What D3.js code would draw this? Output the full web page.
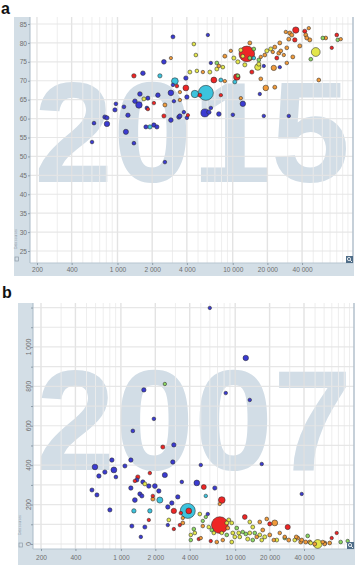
<!DOCTYPE html>
<html><head><meta charset="utf-8">
<script src="https://cdn.jsdelivr.net/npm/d3@7"></script>
<style>html,body{margin:0;padding:0;background:#fff;} svg{display:block}</style>
</head><body><svg id="c" width="358" height="572"></svg>
<script>
// ---------- DATA ----------
// Panel a: year 2015, x = income per person, y = life expectancy (years), third = population (millions)
const yearA = "2015";
const a_africa = [[3030,81.6,8],[2528,75.0,22],[1662,72.0,20],[3027,68.9,3],[1565,66.5,20],[969,63.9,5],[950,62.3,12],[1137,63.1,6],[1417,64.6,18],[1535,63.6,90],[1836,65.4,10],[1800,62.8,5],[2242,66.2,18],[2907,66.8,50],[3087,64.6,3],[2907,59.6,20],[3411,60.4,15],[1232,60.9,15],[625,58.8,5],[778,60.4,15],[810,60.2,12],[810,58.6,45],[1183,56.5,35],[1764,57.8,10],[2070,58.3,15],[2198,57.8,12],[601,53.8,4],[1388,53.5,5],[2579,48.5,4],[3922,70.7,15],[4002,65.7,15],[3480,60.7,12],[3769,61.7,3],[5733,61.5,180],[6210,61.7,15],[7583,61.2,20],[6462,62.8,4],[10030,61.0,4],[4002,60.2,4],[12245,63.9,45],[18617,60.7,3],[30680,60.7,3],[6462,74.7,2],[6086,82.1,2],[17190,66.5,2],[18617,73.9,2],[25630,73.6,2]];
const a_southAsia = [[2334,71.3,12],[3149,69.9,100],[4695,66.5,140],[5847,66.8,1000],[7890,70.2,8],[10436,69.7,8],[15250,76.0,5],[1911,57.8,12]];
const a_eastAsia = [[1388,71.3,15],[3278,68.6,4],[2070,64.1,3],[2528,60.7,10],[13260,77.1,1100],[6861,70.2,60],[10860,71.0,90],[3922,68.1,60],[5188,66.2,6],[7890,66.2,2],[14660,72.3,10],[24140,76.0,8],[35280,83.4,80],[42220,83.1,10],[34590,80.8,15],[72400,78.7,2],[80000,82.1,5],[1836,62.5,2],[4082,60.9,2]];
const a_america = [[52590,77.6,240],[4602,79.7,5],[4788,76.8,5],[8215,73.6,5],[7285,73.1,8],[4249,72.3,8],[4886,72.6,4],[6335,72.3,8],[11760,78.1,10],[12245,76.5,6],[10230,76.0,10],[11080,75.0,10],[12740,74.2,10],[16516,73.6,80],[16850,74.4,10],[19770,77.9,10],[21410,78.4,10],[1695,65.2,8]];
const a_middleEast = [[7285,74.7,5],[16850,75.5,6],[15250,78.4,5],[14080,76.0,8],[60500,81.3,5],[81600,80.8,4],[47600,75.7,5],[11080,71.3,4]];
const a_europe = [[2907,76.0,1],[2579,63.6,8],[8547,76.5,8],[7583,73.9,5],[8547,69.9,2],[5510,72.3,2],[3480,67.0,2],[3480,64.9,2],[31300,82.6,10],[45740,83.9,2],[43060,82.1,8],[46660,80.8,10],[43940,81.3,8],[38210,79.2,10],[32580,82.1,10],[28890,82.9,2],[30680,81.0,8],[25630,80.0,8],[64200,81.3,6],[86640,81.0,2],[55850,70.2,6],[29470,78.7,6],[33240,76.3,8],[27760,76.8,2],[26140,77.9,6],[23190,78.9,8],[22290,77.6,2],[25120,77.3,8],[29470,74.7,4],[22730,73.4,40],[19370,68.1,50],[23190,68.3,8],[18990,76.8,6],[17530,76.3,2],[14080,80.0,8],[9633,77.9,2],[17530,70.5,6],[11760,65.4,2]];

// Panel b: year 2007, x = income per person, y = indicator value, third = population (millions)
const yearB = "2007";
const b_africa = [[5994,1198,2],[12370,944,45],[8270,766,3],[13410,731,3],[1588,782,15],[1943,635,4],[1272,574,5],[2905,503,15],[2846,416,15],[834,426,15],[1222,426,15],[593,391,50],[868,376,60],[724,365,15],[1084,396,10],[642,345,15],[904,340,5],[2423,350,35],[1379,325,10],[1556,315,12],[1755,294,15],[1982,294,25],[2147,269,15],[1222,284,15],[558,274,10],[617,249,10],[1465,254,12],[1525,244,12],[1325,223,25],[3146,239,15],[2790,208,15],[2572,188,15],[801,173,12],[2572,96,2],[1247,91,10],[1620,86,10],[1494,36,3],[5000,401,3],[17070,406,3],[3411,315,4],[4613,310,55],[6630,284,12],[38190,254,2],[5755,152,3]];
const b_southAsia = [[2191,223,70],[3847,168,1000],[1299,168,15],[1792,168,15],[5529,244,3]];
const b_eastAsia = [[2327,492,10],[1406,340,12],[1325,320,3],[1792,360,3],[1903,244,3],[2905,168,40],[3926,168,60],[3343,157,3],[3277,96,2],[1755,122,2],[2905,76,2],[4802,25,2],[5314,289,30],[7631,223,100],[7331,96,1300],[12130,137,25],[20060,102,10],[28800,86,35],[6114,15,2],[69860,30,2],[77250,56,2]];
const b_america = [[1620,305,8],[4902,152,6],[2625,122,6],[4433,56,5],[4088,46,4],[8783,122,8],[8438,107,6],[5873,86,5],[10740,56,8],[14240,86,8],[13410,112,6],[16400,46,8],[18140,36,10],[23090,20,8],[12870,25,10],[9916,36,6],[9334,10,6],[33180,20,6],[45770,5,6],[52680,0,240],[6498,56,5],[7631,56,4],[9522,56,6],[9334,107,6],[10965,36,6],[13410,56,8],[17070,20,6]];
const b_middleEast = [[2423,812,2],[5206,117,2],[4345,76,5],[4088,20,4],[5529,137,2],[10320,81,6],[12370,51,6],[14830,56,5],[14240,20,6],[43070,41,6],[83710,10,5],[96350,15,3],[6240,71,5],[8438,46,5],[11640,61,4],[27130,30,4]];
const b_europe = [[1903,228,8],[3480,132,2],[3480,107,6],[5000,30,2],[7331,203,2],[5206,91,4],[8607,81,6],[16400,112,6],[18880,127,5],[22190,107,60],[17420,71,8],[20060,46,8],[21740,20,4],[7786,20,4],[6899,10,5],[27130,36,4],[29390,20,8],[35220,30,8],[37420,10,8],[41390,10,8],[49630,0,8],[60680,5,8],[67110,5,6],[15430,36,5],[24530,56,4],[34200,36,6],[38190,20,8],[44870,10,8],[58270,10,4],[60680,0,5]];

const xTickValues = [200,400,1000,2000,4000,10000,20000,40000];
const yTicksA = [25,30,35,40,45,50,55,60,65,70,75,80,85];
const yTicksB = [0,200,400,600,800,1000];
const yMinorB = [0,100,200,300,400,500,600,700,800,900,1000,1100,1200];

const regionColors = {af:"#3b3bd2", sa:"#3cc3dd", ea:"#ee2525", am:"#e3e64a", me:"#8cd862", eu:"#f09a3a"};

// ---------- DRAWING ----------
const svg = d3.select("#c");
const fmt = v => d3.format(",")(v).replace(/,/g, " ");
const rScale = d3.scaleSqrt().domain([0,1400]).range([1.45,8.6]);
const STRIP = "#d3dee6", YEARCOL = "#d2dde6", TXT = "#6f6f6f";

function drawPanel(cfg) {
  const g = svg.append("g");
  const x = d3.scaleLog().domain(cfg.xDomain).range([cfg.left, cfg.right]);
  const y = d3.scaleLinear().domain(cfg.yDomain).range([cfg.bottom, cfg.top]);

  // panel letter
  g.append("text").attr("x", cfg.labelX).attr("y", cfg.labelY)
    .attr("font-family","Liberation Sans, Arial, sans-serif").attr("font-weight","bold")
    .attr("font-size",16).attr("fill","#111").text(cfg.label);

  // axis strips
  g.append("rect").attr("x", cfg.stripLeft).attr("y", cfg.top)
    .attr("width", cfg.left - cfg.stripLeft).attr("height", cfg.bottom - cfg.top).attr("fill", STRIP);
  g.append("rect").attr("x", cfg.stripLeft).attr("y", cfg.bottom)
    .attr("width", cfg.right + 1 - cfg.stripLeft).attr("height", cfg.stripBottom - cfg.bottom).attr("fill", STRIP);

  // big year
  g.append("text").attr("x", cfg.yearX).attr("y", cfg.yearY).attr("text-anchor","middle")
    .attr("font-family","Liberation Sans, Arial, sans-serif").attr("font-weight","bold")
    .attr("font-size",142).attr("fill",YEARCOL).text(cfg.year);

  // vertical grid (log minor + labelled)
  const [d0,d1] = cfg.xDomain;
  const vg = [];
  for (let p = 100; p <= 100000; p *= 10) for (let m = 1; m <= 9; m++) { const v = p*m; if (v > d0 && v < d1) vg.push(v); }
  g.append("g").selectAll("line").data(vg).join("line")
    .attr("x1", d => x(d)).attr("x2", d => x(d)).attr("y1", cfg.top).attr("y2", cfg.bottom)
    .attr("stroke", d => xTickValues.includes(d) ? "#e0e0e0" : "#ececec")
    .attr("stroke-width", d => xTickValues.includes(d) ? 1.4 : 1).attr("stroke-opacity",0.9);
  // horizontal grid
  g.append("g").selectAll("line").data(cfg.hGrid).join("line")
    .attr("x1", cfg.left).attr("x2", cfg.right).attr("y1", d => y(d)).attr("y2", d => y(d))
    .attr("stroke","#e4e4e4").attr("stroke-width",1.2).attr("stroke-opacity",0.9);

  // right border & axis lines
  g.append("line").attr("x1", cfg.right).attr("x2", cfg.right).attr("y1", cfg.top).attr("y2", cfg.bottom)
    .attr("stroke","#b3c1cc").attr("stroke-width",1.5);
  g.append("line").attr("x1", cfg.left).attr("x2", cfg.left).attr("y1", cfg.top).attr("y2", cfg.bottom)
    .attr("stroke","#a9bac7").attr("stroke-width",1);
  g.append("line").attr("x1", cfg.left).attr("x2", cfg.right).attr("y1", cfg.bottom).attr("y2", cfg.bottom)
    .attr("stroke","#b7c5d0").attr("stroke-width",1);

  // x axis
  const xa = g.append("g").attr("transform", `translate(0,${cfg.bottom})`)
    .call(d3.axisBottom(x).tickValues(xTickValues).tickFormat(fmt).tickSize(2).tickPadding(cfg.xPad));
  xa.select(".domain").remove();
  xa.selectAll("line").attr("stroke","#8d9ca8");
  xa.selectAll("text").attr("font-family","Liberation Sans, Arial, sans-serif").attr("font-size",6.6).attr("fill",TXT);

  // y axis
  if (cfg.rotateY) {
    const ya = g.append("g").attr("transform", `translate(${cfg.left},0)`)
      .call(d3.axisLeft(y).tickValues(yMinorB).tickSize(2).tickFormat(""));
    ya.select(".domain").remove();
    ya.selectAll("line").attr("stroke","#8d9ca8");
    g.append("g").selectAll("text").data(yTicksB).join("text")
      .attr("transform", d => `translate(${cfg.left - 2.5},${y(d)}) rotate(-90)`)
      .attr("text-anchor","middle").attr("font-family","Liberation Sans, Arial, sans-serif")
      .attr("font-size",6.6).attr("fill",TXT).text(fmt);
  } else {
    const ya = g.append("g").attr("transform", `translate(${cfg.left},0)`)
      .call(d3.axisLeft(y).tickValues(yTicksA).tickSize(2).tickPadding(1));
    ya.select(".domain").remove();
    ya.selectAll("line").attr("stroke","#8d9ca8");
    ya.selectAll("text").attr("font-family","Liberation Sans, Arial, sans-serif").attr("font-size",6.6).attr("fill",TXT);
  }

  // small rotated source note + icon on the y strip
  g.append("text").attr("transform", `translate(${cfg.stripLeft + 3.2},${cfg.bottom - 14}) rotate(-90)`)
    .attr("font-family","Liberation Sans, Arial, sans-serif").attr("font-size",3.4).attr("fill","#8e9ba6").text("Data sources");
  g.append("rect").attr("x", cfg.stripLeft + 1).attr("y", cfg.bottom - 6).attr("width",3.5).attr("height",4)
    .attr("fill","none").attr("stroke","#8e9ba6").attr("stroke-width",0.7);

  // bubbles
  const clipId = "clip" + cfg.label;
  svg.append("clipPath").attr("id", clipId).append("rect")
    .attr("x", cfg.left).attr("y", cfg.top).attr("width", cfg.right - cfg.left).attr("height", cfg.bottom - cfg.top);
  const pts = [];
  for (const [reg, arr] of cfg.series) arr.forEach(d => pts.push({inc:d[0], v:d[1], pop:d[2], reg}));
  pts.sort((a,b) => b.pop - a.pop);
  g.append("g").attr("clip-path", `url(#${clipId})`).selectAll("circle").data(pts).join("circle")
    .attr("cx", d => x(d.inc)).attr("cy", d => y(d.v)).attr("r", d => rScale(d.pop))
    .attr("fill", d => regionColors[d.reg]).attr("stroke","#2a2a2a").attr("stroke-width",0.55);

  // zoom icon
  const ix = cfg.right - 7, iy = cfg.bottom - 7;
  g.append("rect").attr("x", ix).attr("y", iy).attr("width",7).attr("height",7).attr("fill","#4f6d88");
  g.append("circle").attr("cx", ix+3).attr("cy", iy+3).attr("r",1.6).attr("fill","none").attr("stroke","#fff").attr("stroke-width",0.8);
  g.append("line").attr("x1", ix+4.2).attr("y1", iy+4.2).attr("x2", ix+6).attr("y2", iy+6).attr("stroke","#fff").attr("stroke-width",0.9);
}

drawPanel({
  label:"a", labelX:1, labelY:14, year:yearA, yearX:192, yearY:182,
  left:30, right:353, top:17, bottom:263, stripLeft:14, stripBottom:276, xPad:2,
  xDomain:[174,110700], yDomain:[21.83,86.85], hGrid:yTicksA, rotateY:false,
  series:[["af",a_africa],["sa",a_southAsia],["ea",a_eastAsia],["am",a_america],["me",a_middleEast],["eu",a_europe]]
});
drawPanel({
  label:"b", labelX:2, labelY:298, year:yearB, yearX:194, yearY:470,
  left:33, right:354, top:303, bottom:549, stripLeft:18, stripBottom:565, xPad:4,
  xDomain:[170.2,109500], yDomain:[-25.4,1223], hGrid:yMinorB, rotateY:true,
  series:[["af",b_africa],["sa",b_southAsia],["ea",b_eastAsia],["am",b_america],["me",b_middleEast],["eu",b_europe]]
});
</script></body></html>
